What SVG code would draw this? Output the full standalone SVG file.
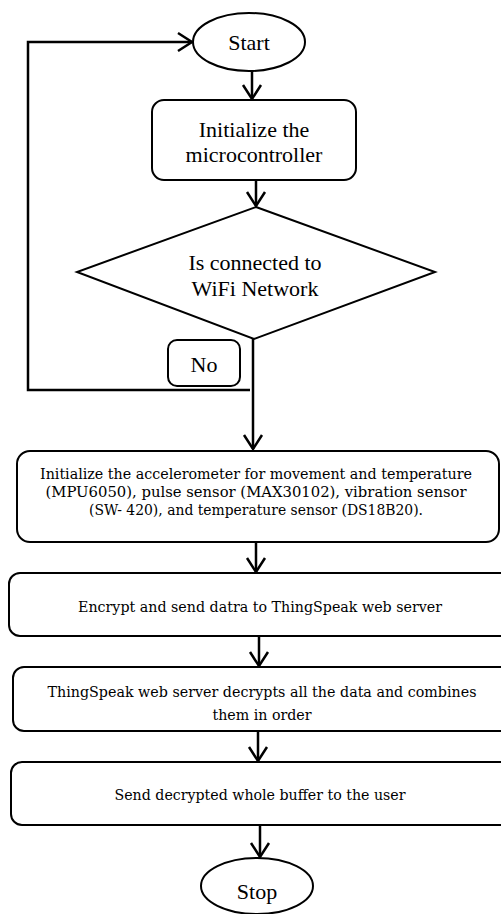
<svg xmlns="http://www.w3.org/2000/svg" width="501" height="914" viewBox="0 0 501 914">
  <style>
    .shape { fill: #ffffff; stroke: #000000; stroke-width: 2; }
    .line { fill: none; stroke: #000000; stroke-width: 2.5; }
    .big { font-family: "Liberation Serif", "Times New Roman", serif; font-size: 22px; fill: #000000; text-anchor: middle; }
    .small { font-family: "DejaVu Serif", "Liberation Serif", serif; font-size: 14px; fill: #000000; text-anchor: middle; }
  </style>
  <defs>
    <marker id="arrow" markerUnits="userSpaceOnUse" markerWidth="24" markerHeight="24" viewBox="-16 -12 20 24" refX="0" refY="0" orient="auto">
      <path d="M-14,-9 L0,0 L-14,9" fill="none" stroke="#000000" stroke-width="2.5"/>
    </marker>
  </defs>
  <rect x="0" y="0" width="501" height="914" fill="#ffffff"/>

  <g id="connectors">
    <path class="line" d="M250,390 L28,390 L28,42 L192,42" marker-end="url(#arrow)"/>
    <path class="line" d="M252,71 L252,99" marker-end="url(#arrow)"/>
    <path class="line" d="M256,180 L256,206" marker-end="url(#arrow)"/>
    <path class="line" d="M253,339 L253,449" marker-end="url(#arrow)"/>
    <path class="line" d="M256,543 L256,572" marker-end="url(#arrow)"/>
    <path class="line" d="M259,636 L259,666" marker-end="url(#arrow)"/>
    <path class="line" d="M258,731 L258,761" marker-end="url(#arrow)"/>
    <path class="line" d="M260,825 L260,857" marker-end="url(#arrow)"/>
  </g>

  <g id="start">
    <ellipse class="shape" cx="249" cy="42" rx="56" ry="29"/>
    <text class="big" x="249" y="50">Start</text>
  </g>

  <g id="init-mcu">
    <rect class="shape" x="152" y="100" width="204" height="80" rx="12"/>
    <text class="big" x="254" y="137">Initialize the</text>
    <text class="big" x="254" y="162">microcontroller</text>
  </g>

  <g id="wifi-check">
    <polygon class="shape" points="256,207 435,272 254,339 77,272"/>
    <text class="big" x="255" y="270">Is connected to</text>
    <text class="big" x="255" y="296">WiFi Network</text>
  </g>

  <g id="no-label">
    <rect class="shape" x="168" y="340" width="72" height="46" rx="9"/>
    <text class="big" x="204" y="372">No</text>
  </g>

  <g id="init-sensors">
    <rect class="shape" x="17" y="451" width="482" height="91" rx="13"/>
    <text class="small" x="256" y="479" textLength="432" lengthAdjust="spacingAndGlyphs">Initialize the accelerometer for movement and temperature</text>
    <text class="small" x="256" y="497" textLength="421" lengthAdjust="spacingAndGlyphs">(MPU6050), pulse sensor (MAX30102), vibration sensor</text>
    <text class="small" x="256" y="515" textLength="334" lengthAdjust="spacingAndGlyphs">(SW- 420), and temperature sensor (DS18B20).</text>
  </g>

  <g id="encrypt-send">
    <rect class="shape" x="9" y="573" width="510" height="63" rx="11"/>
    <text class="small" x="260" y="612" textLength="364" lengthAdjust="spacingAndGlyphs">Encrypt and send datra to ThingSpeak web server</text>
  </g>

  <g id="server-decrypt">
    <rect class="shape" x="13" y="667" width="510" height="64" rx="11"/>
    <text class="small" x="262" y="697" textLength="429" lengthAdjust="spacingAndGlyphs">ThingSpeak web server decrypts all the data and combines</text>
    <text class="small" x="262" y="720" textLength="99" lengthAdjust="spacingAndGlyphs">them in order</text>
  </g>

  <g id="send-user">
    <rect class="shape" x="11" y="762" width="510" height="63" rx="11"/>
    <text class="small" x="260" y="800" textLength="291" lengthAdjust="spacingAndGlyphs">Send decrypted whole buffer to the user</text>
  </g>

  <g id="stop">
    <ellipse class="shape" cx="257" cy="886" rx="56" ry="28"/>
    <text class="big" x="257" y="899">Stop</text>
  </g>
</svg>
